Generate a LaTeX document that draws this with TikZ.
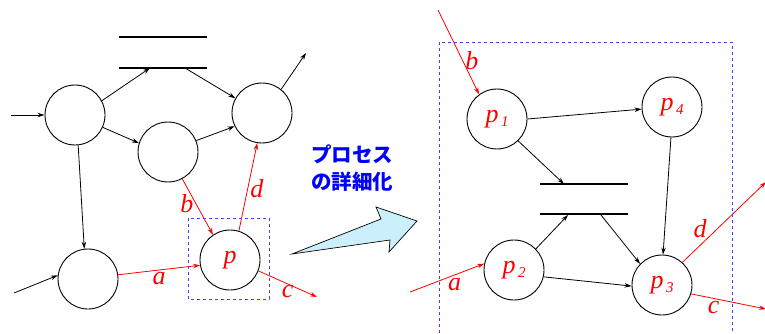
\documentclass[tikz,border=0pt]{standalone}
\usepackage{fontspec}
\setmainfont{Liberation Serif}
\newfontfamily\cjkfont{Noto Sans CJK JP}
\usetikzlibrary{arrows.meta}
\newcommand\pname[1]{\textit{p}\hspace{2.5pt}\raisebox{-4pt}{\fontsize{15}{15}\selectfont\textit{#1}}}
\begin{document}
\begin{tikzpicture}[x=1pt,y=-1pt,>={Stealth[length=7pt,width=4.5pt]},
  every node/.style={font=\fontsize{26}{30}\selectfont\itshape,text=red},
  proc/.style={draw,circle,line width=0.9pt,minimum size=60pt,inner sep=0pt},
  flow/.style={->,line width=0.8pt},
  rflow/.style={->,line width=0.8pt,red},
  store/.style={line width=2.4pt},
  frame/.style={draw,dashed,blue!75!white,line width=0.7pt}]
\useasboundingbox (0,0) rectangle (765,334);
\clip (0,0) rectangle (765,334);
% Left: whole diagram
\node[proc] (nA) at (75,115) {};
\node[proc] (nB) at (168,152) {};
\node[proc] (nC) at (262,113) {};
\node[proc] (nD) at (88,279) {};
\node[proc] (np) at (230,260) {\textit{p}};
\draw[store] (119,37)--(207,37);
\draw[store] (119,68)--(207,68);
\coordinate (sLin) at (150,68);
\coordinate (sLout) at (185,68);
\coordinate (inA) at (11,115);
\coordinate (inD) at (14,293);
\coordinate (outC) at (306,53);
\coordinate (outc) at (317,297);
\draw[flow] (inA)--(nA.west);
\draw[flow] (inD)--(nD.173);
\draw[flow] (nA.28)--(sLin);
\draw[flow] (sLout)--(nC.151);
\draw[flow] (nA.-24)--(nB.163);
\draw[flow] (nB.22)--(nC.206);
\draw[flow] (nC.51)--(outC);
\draw[flow] (nA.276)--(nD.97);
\draw[rflow] (nD.8)--(np.190) node[pos=0.5,below=-1pt] {a};
\draw[rflow] (nB.298)--(np.124) node[pos=0.45,left=-1pt] {b};
\draw[rflow] (np.73)--(nC.261) node[pos=0.48,right=-1pt] {d};
\draw[rflow] (np.-21)--(outc) node[pos=0.5,below=-2pt] {c};
\draw[frame] (188,218) rectangle (269,299);
% Refinement arrow
\node[font=\cjkfont\bfseries\fontsize{20.5}{27}\selectfont,text=blue,align=center] (title) at (352,168) {プロセス\\の詳細化};
\draw[fill=cyan!20,line width=0.7pt] (292,254)--(381,219)--(376,207)--(417,221)--(389,252)--(390,240)--cycle;
% Right: refined process
\node[proc] (p1) at (497,119) {\pname{1}};
\node[proc] (p4) at (672,107) {\pname{4}};
\node[proc] (p2) at (514,270) {\pname{2}};
\node[proc] (p3) at (662,285) {\pname{3}};
\draw[store] (540,184)--(628,184);
\draw[store] (540,214)--(628,214);
\coordinate (sRin) at (564,184);
\coordinate (sRin2) at (568,215);
\coordinate (sRout) at (601,215);
\coordinate (inb) at (438,10);
\coordinate (ina) at (410,292);
\coordinate (outd) at (766,182);
\coordinate (outc2) at (766,309);
\draw[rflow] (inb)--(p1.126) node[pos=0.6,right=-1pt] {b};
\draw[rflow] (ina)--(p2.168) node[pos=0.6,below=0pt] {a};
\draw[flow] (p1.0)--(p4.184);
\draw[flow] (p1.-46)--(sRin);
\draw[flow] (p2.44)--(sRin2);
\draw[flow] (sRout)--(p3.136);
\draw[flow] (p4.268)--(p3.88);
\draw[flow] (p2.-13)--(p3.182);
\draw[rflow] (p3.48)--(outd) node[pos=0.3,above left=-3pt] {d};
\draw[rflow] (p3.-17)--(outc2) node[pos=0.3,below=-1pt] {c};
\draw[frame] (439,345)--(439,42)--(732,42)--(732,345);
\end{tikzpicture}
\end{document}
